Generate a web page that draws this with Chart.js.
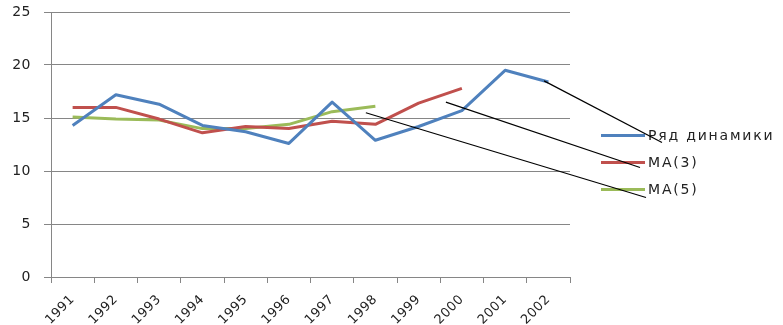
<!DOCTYPE html>
<html lang="ru">
<head>
  <meta charset="UTF-8">
  <title>Ряд динамики и скользящие средние</title>
  <style>
    html, body { margin: 0; padding: 0; background: #fff; }
    #wrap { width: 783px; height: 325px; }
  </style>
</head>
<body>
  <div id="wrap">
    <canvas id="grafico"></canvas>
  </div>

  <script src="https://cdn.jsdelivr.net/npm/chart.js"></script>
  <script>
    // Datos
    const anios = ['1991','1992','1993','1994','1995','1996','1997','1998','1999','2000','2001','2002'];
    const serieDinamica = [14.3, 17.2, 16.3, 14.3, 13.7, 12.6, 16.5, 12.9, 14.2, 15.7, 19.5, 18.4];
    const mediaMovil3 = [16.0, 16.0, 14.9, 13.6, 14.2, 14.0, 14.7, 14.4, 16.4, 17.8];
    const mediaMovil5 = [15.1, 14.9, 14.8, 14.0, 14.0, 14.4, 15.6, 16.1];
    const nombres = ['Ряд динамики', 'MA(3)', 'MA(5)'];
    const colores = ['#4F81BD', '#C0504D', '#9BBB59'];
    // inicio de las flechas negras (indice de categoria, valor)
    const flechasInicio = [[10.9, 18.5], [8.63, 16.5], [6.78, 15.5]];
    // fin de las flechas, desplazamiento respecto al final de la muestra de leyenda
    const flechasFin = [[17, 7], [-5, 5], [1, 8]];

    const fuente = "'DejaVu Sans', Verdana, sans-serif";
    const espaciado = '0.5px';

    // el texto del original es más ancho: espaciado de letras en el canvas
    const espaciadoPlugin = {
      id: 'espaciado',
      beforeUpdate(chart) { chart.ctx.letterSpacing = espaciado; },
      beforeDraw(chart) { chart.ctx.letterSpacing = espaciado; }
    };

    // Leyenda propia a la derecha + lineas negras
    const leyendaPlugin = {
      id: 'leyendaFlechas',
      afterDraw(chart) {
        const ctx = chart.ctx;
        const area = chart.chartArea;
        const xs = chart.scales.x, ys = chart.scales.y;
        const x0 = area.right + 31;
        const yc = chart.height / 2 - 27;
        ctx.save();
        ctx.letterSpacing = '1.8px';
        ctx.font = '14px ' + fuente;
        ctx.textBaseline = 'middle';
        ctx.textAlign = 'left';
        const finales = [];
        chart.data.datasets.forEach((ds, i) => {
          const y = yc + i * 27;
          ctx.strokeStyle = ds.borderColor;
          ctx.lineWidth = 3;
          ctx.beginPath();
          ctx.moveTo(x0, y);
          ctx.lineTo(x0 + 44, y);
          ctx.stroke();
          ctx.fillStyle = '#222';
          ctx.fillText(ds.label, x0 + 47, y + 1);
          finales.push([x0 + 44, y]);
        });
        ctx.strokeStyle = '#000';
        ctx.lineWidth = 1.2;
        flechasInicio.forEach((p, i) => {
          ctx.beginPath();
          ctx.moveTo(xs.getPixelForValue(p[0]), ys.getPixelForValue(p[1]));
          ctx.lineTo(finales[i][0] + flechasFin[i][0], finales[i][1] + flechasFin[i][1]);
          ctx.stroke();
        });
        ctx.restore();
      }
    };

    const lienzo = document.getElementById('grafico');
    new Chart(lienzo, {
      type: 'line',
      data: {
        labels: anios,
        datasets: [
          { label: nombres[0], data: serieDinamica, borderColor: colores[0], backgroundColor: colores[0] },
          { label: nombres[1], data: mediaMovil3, borderColor: colores[1], backgroundColor: colores[1] },
          { label: nombres[2], data: mediaMovil5, borderColor: colores[2], backgroundColor: colores[2] }
        ]
      },
      options: {
        responsive: true,
        maintainAspectRatio: false,
        animation: false,
        devicePixelRatio: 1,
        layout: { padding: { left: 10, right: 213, top: 12, bottom: 0 } },
        elements: {
          point: { radius: 0 },
          line: { borderWidth: 3, tension: 0, borderCapStyle: 'butt', borderJoinStyle: 'round' }
        },
        plugins: {
          legend: { display: false },
          tooltip: { enabled: false }
        },
        scales: {
          x: {
            offset: true,
            grid: { offset: true, drawOnChartArea: false, drawTicks: true, tickLength: 6, color: '#868686' },
            border: { color: '#868686' },
            ticks: {
              minRotation: 45, maxRotation: 45, autoSkip: false, padding: 9,
              color: '#222', font: { family: fuente, size: 13 }
            },
            // tamaño fijo del eje, sin margen extra por las etiquetas giradas
            afterFit(scale) {
              scale.height = 48;
              scale.paddingLeft = 0;
              scale.paddingRight = 0;
            }
          },
          y: {
            min: 0, max: 25,
            grid: { color: '#868686', tickLength: 7 },
            border: { color: '#868686' },
            ticks: {
              stepSize: 5, padding: 13,
              color: '#222', font: { family: fuente, size: 14 }
            },
            afterFit(scale) {
              scale.width = 41;
              scale.paddingTop = 0;
              scale.paddingBottom = 0;
            }
          }
        }
      },
      plugins: [espaciadoPlugin, leyendaPlugin]
    });
  </script>
</body>
</html>
